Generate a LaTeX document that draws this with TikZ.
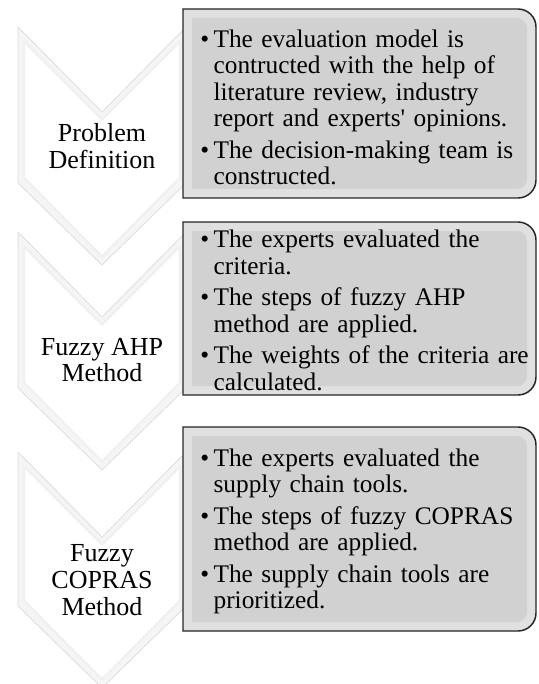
\documentclass[tikz,border=0pt]{standalone}
\usepackage{fontspec}
\setmainfont{Liberation Serif}
\usepackage{tikz}

\newcommand{\stepitem}[1]{\par\hangindent=10pt\hangafter=1\noindent\makebox[10pt][l]{\textbullet}#1\par}
\newcommand{\stepgap}{\vspace{4pt}}

\begin{document}
\begin{tikzpicture}[x=0.75pt,y=0.75pt,yscale=-1,xscale=1,
    chevout/.style={fill=gray!8, draw=gray!30, line width=0.5pt},
    chevin/.style={fill=white, draw=gray!12, line width=1.6pt, line join=round},
    boxband/.style={fill=gray!24},
    boxcore/.style={fill=gray!36},
    boxedge/.style={draw=black!85, line width=1.1pt},
    steplabel/.style={inner sep=0.75pt, align=center, font=\fontsize{19.5}{20}\selectfont},
    steplist/.style={anchor=west, inner sep=0pt, text width=262pt, align=left, font=\fontsize{19}{19.8}\selectfont}]
        \useasboundingbox (0,0) rectangle (538,684);

        %Shape: Chevron [Problem Definition]
        \draw [chevout] (18,27) -- (102,112) -- (186,27) -- (186,183) -- (102,265) -- (18,183) -- cycle ;
        \draw [chevin] (24,41.5) -- (102,119.5) -- (180,41.5) -- (180,177.5) -- (102,256.5) -- (24,177.5) -- cycle ;
        %Shape: Chevron [Fuzzy AHP]
        \draw [chevout] (18,232) -- (102,317) -- (186,232) -- (186,388) -- (102,470) -- (18,388) -- cycle ;
        \draw [chevin] (24,246.5) -- (102,324.5) -- (180,246.5) -- (180,382.5) -- (102,461.5) -- (24,382.5) -- cycle ;
        %Shape: Chevron [Fuzzy COPRAS]
        \draw [chevout] (18,452) -- (102,537) -- (186,452) -- (186,606) -- (102,688) -- (18,606) -- cycle ;
        \draw [chevin] (24,466.5) -- (102,544.5) -- (180,466.5) -- (180,600.5) -- (102,679.5) -- (24,600.5) -- cycle ;

        %Shape: Round Same Side Corner Rect [box 1]
        \path [boxband] (183,9) -- (518,9) arc[start angle=-90,end angle=0,radius=18] -- (536,180) arc[start angle=0,end angle=90,radius=18] -- (183,198) -- cycle ;
        \path [boxcore] (192,18) -- (517,18) arc[start angle=-90,end angle=0,radius=10] -- (527,179) arc[start angle=0,end angle=90,radius=10] -- (192,189) -- cycle ;
        \draw [boxedge] (183,9) -- (518,9) arc[start angle=-90,end angle=0,radius=18] -- (536,180) arc[start angle=0,end angle=90,radius=18] -- (183,198) -- cycle ;
        %Shape: Round Same Side Corner Rect [box 2]
        \path [boxband] (183,222) -- (518,222) arc[start angle=-90,end angle=0,radius=18] -- (536,377) arc[start angle=0,end angle=90,radius=18] -- (183,395) -- cycle ;
        \path [boxcore] (192,231) -- (517,231) arc[start angle=-90,end angle=0,radius=10] -- (527,376) arc[start angle=0,end angle=90,radius=10] -- (192,386) -- cycle ;
        \draw [boxedge] (183,222) -- (518,222) arc[start angle=-90,end angle=0,radius=18] -- (536,377) arc[start angle=0,end angle=90,radius=18] -- (183,395) -- cycle ;
        %Shape: Round Same Side Corner Rect [box 3]
        \path [boxband] (183,427) -- (518,427) arc[start angle=-90,end angle=0,radius=18] -- (536,613) arc[start angle=0,end angle=90,radius=18] -- (183,631) -- cycle ;
        \path [boxcore] (192,436) -- (517,436) arc[start angle=-90,end angle=0,radius=10] -- (527,612) arc[start angle=0,end angle=90,radius=10] -- (192,622) -- cycle ;
        \draw [boxedge] (183,427) -- (518,427) arc[start angle=-90,end angle=0,radius=18] -- (536,613) arc[start angle=0,end angle=90,radius=18] -- (183,631) -- cycle ;

        % Text Node
        \draw (102,146) node (probdef) [steplabel] {Problem\\Definition};
        % Text Node
        \draw (102,360) node (fuzzyahp) [steplabel] {Fuzzy AHP\\Method};
        % Text Node
        \draw (102,580) node (fuzzycopras) [steplabel] {Fuzzy\\COPRAS\\Method};
        % Text Node
        \draw (200,103) node (probdeflist) [steplist] {%
            \stepitem{The evaluation model is\newline contructed with the help of\newline literature review, industry\newline report and experts\textquotesingle{} opinions.}\stepgap
            \stepitem{The decision-making team is\newline constructed.}};
        % Text Node
        \draw (200,306) node (fuzzyahplist) [steplist] {%
            \stepitem{The experts evaluated the\newline criteria.}\stepgap
            \stepitem{The steps of fuzzy AHP\newline method are applied.}\stepgap
            \stepitem{The weights of the criteria are\newline calculated.}};
        % Text Node
        \draw (200,527) node (fuzzycoprlist) [steplist] {%
            \stepitem{The experts evaluated the\newline supply chain tools.}\stepgap
            \stepitem{The steps of fuzzy COPRAS\newline method are applied.}\stepgap
            \stepitem{The supply chain tools are\newline prioritized.}};

\end{tikzpicture}
\end{document}
